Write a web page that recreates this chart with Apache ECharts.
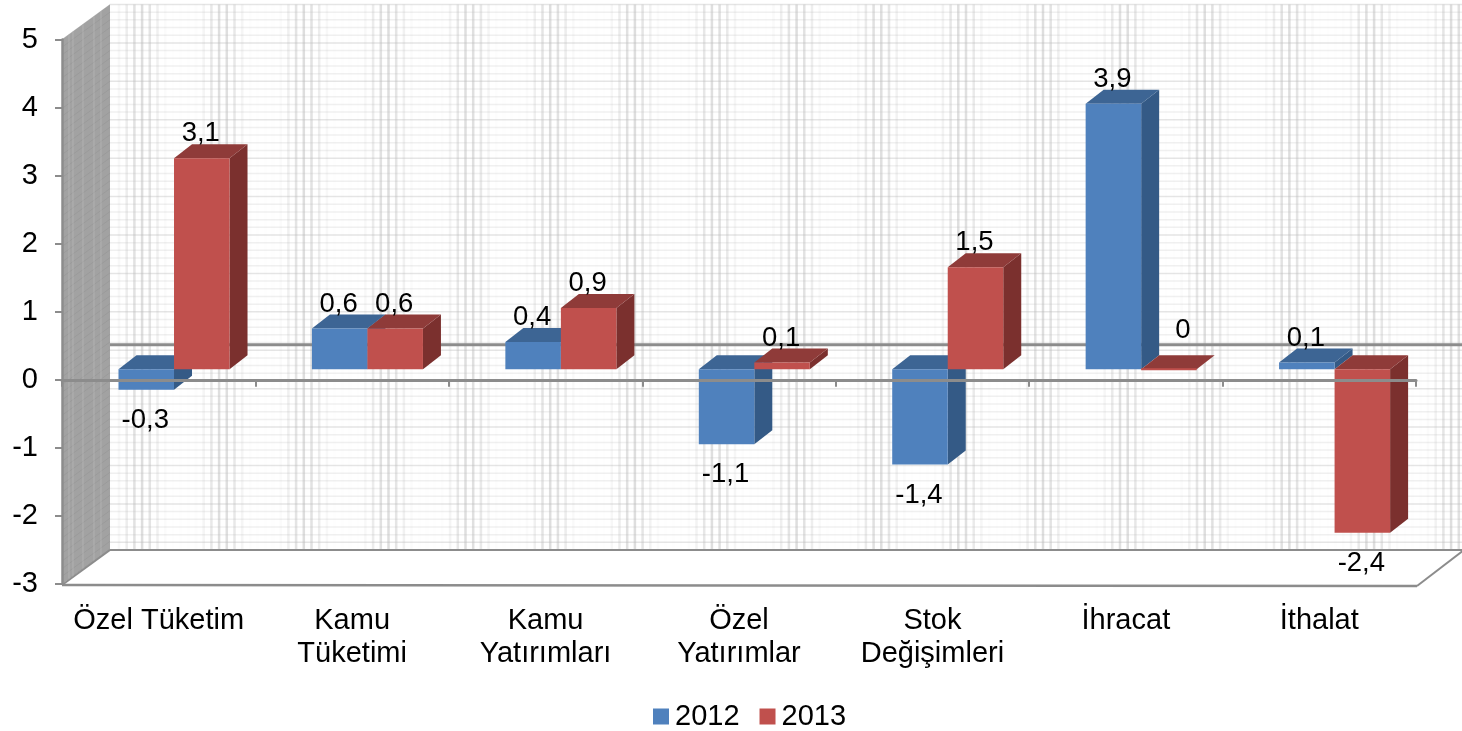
<!DOCTYPE html>
<html>
<head>
<meta charset="utf-8">
<style>html,body{margin:0;padding:0;background:#fff}#c{width:1462px;height:731px}</style>
<script src="https://cdn.jsdelivr.net/npm/echarts@6/dist/echarts.min.js"></script>
</head>
<body>
<div id="c"></div>
<script>
const categories = ['Özel Tüketim', 'Kamu\nTüketimi', 'Kamu\nYatırımları', 'Özel\nYatırımlar', 'Stok\nDeğişimleri', 'İhracat', 'İthalat'];
const values2012 = [-0.3, 0.6, 0.4, -1.1, -1.4, 3.9, 0.1];
const values2013 = [3.1, 0.6, 0.9, 0.1, 1.5, 0, -2.4];
const seriesNames = ['2012', '2013'];

const FONT = '"Liberation Sans", Arial, sans-serif';
const AXIS = '#8c8c8c';
const WALL_DX = 48, WALL_DY = -35;
const BAR_DX = 15.3, BAR_DY = -10.5, BAR_DEPTH_X = 18, BAR_DEPTH_Y = -14;
const SHADES = [
  {front: '#4f81bd', top: '#3d6594', side: '#345a86'},
  {front: '#c0504d', top: '#8f3b39', side: '#7b302e'}
];

function fmt(v) { return String(v).replace('.', ','); }

function poly(points, fill, z2) {
  return {type: 'polygon', shape: {points}, style: {fill}, z2: z2 || 0, silent: true};
}
function seg(x1, y1, x2, y2, stroke, lineWidth, z2) {
  return {type: 'line', shape: {x1, y1, x2, y2}, style: {stroke, lineWidth, fill: null}, z2: z2 || 0, silent: true};
}

function renderWalls(params, api) {
  const cs = params.coordSys;
  const L = cs.x, T = cs.y, R = cs.x + cs.width, B = cs.y + cs.height;
  const bL = L + WALL_DX, bT = T + WALL_DY, bB = B + WALL_DY + 1, bR = R + WALL_DX;
  const zeroY = api.coord([0, 0])[1];
  const ch = [];
  ch.push(poly([[bL, bT], [bR, bT], [bR, bB], [bL, bB]], '#ffffff'));
  // horizontal wall hatch
  const hStep = (bB - bT) / 71;
  for (let k = 0; k <= 71; k++) {
    const y = bT + k * hStep;
    ch.push(seg(bL, y, bR, y, k % 5 === 0 ? '#e5e5e5' : '#f0f0f0', 1.5));
  }
  // vertical wall hatch (moire clusters)
  for (let k = -2; k < 180; k++) {
    const x = 126.7 + 7.7 * k;
    if (x < bL || x > bR) continue;
    const n = Math.round((x - 141) / 82);
    const d = Math.abs(x - (141 + 82 * n));
    const a = d < 30 ? 0.02 + 0.45 * Math.pow(Math.cos(Math.PI * d / 60), 2) : 0.015;
    ch.push(seg(x, bT, x, bB, 'rgba(185,185,185,' + a.toFixed(3) + ')', 2.5));
  }
  // side wall
  ch.push(poly([[L, T], [bL, bT], [bL, bB], [L, B]], '#a2a2a2', 1));
  const sStep = (B - T) / 71;
  for (let k = 0; k <= 71; k++) {
    const y = T + k * sStep;
    ch.push(seg(L, y, bL, y + WALL_DY, 'rgba(135,135,135,0.3)', 1, 2));
  }
  [69, 73, 83, 94, 101].forEach(function (x) {
    const f = (x - L) / WALL_DX;
    ch.push(seg(x, T + f * WALL_DY, x, B + f * (WALL_DY + 1), 'rgba(190,190,190,0.5)', 1.2, 2));
  });
  // floor
  ch.push(poly([[L, B], [bL, bB], [bR, bB], [R + 1, B + 2]], '#ffffff', 3));
  ch.push(seg(bL, bB, bR, bB, AXIS, 2, 4));
  ch.push(seg(L, B + 1, bL, bB, AXIS, 2, 4));
  ch.push(seg(L, B + 1, R + 1, B + 2, AXIS, 2.5, 4));
  ch.push(seg(R + 1, B + 2, bR, bB, AXIS, 2, 4));
  // zero line on the back wall
  ch.push(seg(bL, zeroY + WALL_DY, bR, zeroY + WALL_DY, AXIS, 3, 4));
  return {type: 'group', children: ch};
}

function renderBar(params, api) {
  const s = params.seriesIndex - 1;
  const idx = api.value(0), val = api.value(1);
  const base = api.coord([idx, 0]);
  const tip = api.coord([idx, val]);
  const w = api.size([1, 0])[0] * 0.287;
  const x0 = base[0] + BAR_DX - (s === 0 ? w : 0);
  const x1 = x0 + w;
  const y0 = base[1] + BAR_DY;
  const yv = tip[1] + BAR_DY;
  const up = Math.min(y0, yv), lo = Math.max(y0, yv);
  const c = SHADES[s];
  const dx = BAR_DEPTH_X, dy = BAR_DEPTH_Y;
  const ch = [
    poly([[x1, up], [x1 + dx, up + dy], [x1 + dx, lo + dy], [x1, lo]], c.side, 1),
    poly([[x0, up], [x0 + dx, up + dy], [x1 + dx, up + dy], [x1, up]], c.top, 1)
  ];
  if (lo - up > 0.5) {
    ch.push({type: 'rect', shape: {x: x0, y: up, width: w, height: lo - up}, style: {fill: c.front}, z2: 2, silent: true});
  } else {
    ch.push(seg(x0, up, x1, up, c.front, 2, 2));
  }
  const cx = (x0 + x1) / 2;
  const ly = val < 0 ? lo + 30.5 : (val === 0 ? up - 38.5 : up - 24.5);
  const lx = val === 0 ? cx + 14 : cx - 1;
  ch.push({type: 'text', z2: 5, silent: true, style: {x: lx, y: ly, text: fmt(val), fill: '#000000',
    font: '27.5px ' + FONT, align: 'center', verticalAlign: 'middle'}});
  return {type: 'group', children: ch};
}

function barSeries(name, values, i) {
  return {
    name, type: 'custom', xAxisIndex: 0, yAxisIndex: 0, z: 3,
    itemStyle: {color: SHADES[i].front},
    encode: {x: 0, y: 1},
    renderItem: renderBar,
    data: values.map(function (v, k) { return [k, v]; })
  };
}

const chart = echarts.init(document.getElementById('c'), null, {renderer: 'canvas'});
chart.setOption({
  animation: false,
  backgroundColor: '#ffffff',
  textStyle: {fontFamily: FONT},
  grid: {left: 62, right: 46, top: 39.5, bottom: 147, containLabel: false},
  legend: {
    data: seriesNames, left: 648, top: 697, icon: 'rect', itemWidth: 16, itemHeight: 16, itemGap: 20,
    selectedMode: false,
    textStyle: {fontSize: 29, color: '#000', fontFamily: FONT, padding: [0, 0, 0, 1]}
  },
  xAxis: [
    {type: 'category', data: categories, position: 'bottom', z: 1,
      axisLine: {show: false, onZero: false}, axisTick: {show: false}, splitLine: {show: false},
      axisLabel: {show: true, interval: 0, fontSize: 29, lineHeight: 33, color: '#000', margin: 20, fontFamily: FONT}},
    {type: 'category', data: categories, position: 'bottom', z: 6,
      axisLine: {show: true, onZero: true, lineStyle: {color: AXIS, width: 3}},
      axisTick: {show: true, length: 7, lineStyle: {color: AXIS, width: 2}},
      axisLabel: {show: false}, splitLine: {show: false}}
  ],
  yAxis: {
    type: 'value', min: -3, max: 5, interval: 1, z: 6,
    axisLine: {show: true, onZero: false, lineStyle: {color: AXIS, width: 2.5}},
    axisTick: {show: true, length: 7, lineStyle: {color: AXIS, width: 2}},
    axisLabel: {fontSize: 29, color: '#000', margin: 24, fontFamily: FONT, padding: [4, 0, 0, 0]},
    splitLine: {show: false}
  },
  series: [
    {name: 'walls', type: 'custom', xAxisIndex: 0, yAxisIndex: 0, z: 1, silent: true, encode: {x: 0, y: 1},
      renderItem: renderWalls, data: [[0, 0]]},
    barSeries(seriesNames[0], values2012, 0),
    barSeries(seriesNames[1], values2013, 1)
  ]
});
</script>
</body>
</html>
